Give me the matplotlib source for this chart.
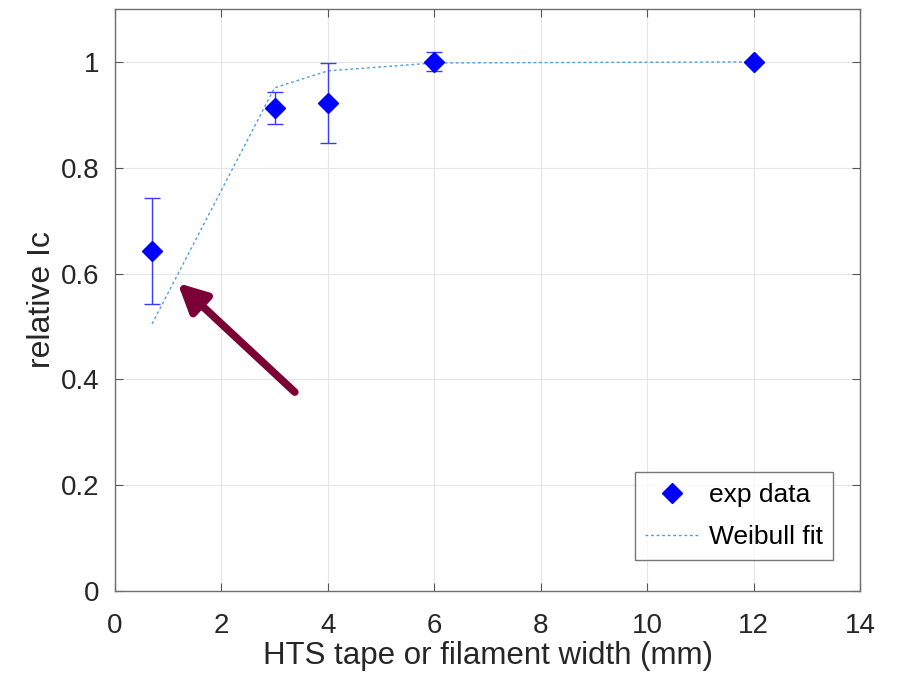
import matplotlib
matplotlib.use("Agg")
import matplotlib.pyplot as plt

plt.rcParams['font.family'] = ['Liberation Sans', 'DejaVu Sans']

width_mm = [0.7, 3, 4, 6, 12]
rel_ic = [0.643, 0.913, 0.922, 1.0, 1.0]
rel_ic_err = [0.100, 0.030, 0.075, 0.018, 0.0]
fit_x = [0.7, 3, 4, 6, 12]
fit_y = [0.505, 0.951, 0.983, 0.998, 1.0]
x_ticks = [0, 2, 4, 6, 8, 10, 12, 14]
y_ticks = [0, 0.2, 0.4, 0.6, 0.8, 1.0]
y_ticklabels = ['0', '0.2', '0.4', '0.6', '0.8', '1']

fig = plt.figure(figsize=(8.97, 6.75), dpi=100)
ax = fig.add_axes([0.128, 0.1244, 0.831, 0.8623])

ax.errorbar(width_mm, rel_ic, yerr=rel_ic_err, fmt='none', ecolor='#3a3af0',
            elinewidth=1.0, capsize=5.5, capthick=1.0, zorder=3)
ax.plot(width_mm, rel_ic, linestyle='none', marker='D', markersize=10,
        color='#0000ff', label='exp data', zorder=4)
ax.plot(fit_x, fit_y, linestyle=(0, (2, 2)), color='#4d9fdc', linewidth=1.0,
        label='Weibull fit', zorder=2)

ax.annotate('', xy=(1.18, 0.582), xytext=(3.38, 0.376),
            arrowprops=dict(arrowstyle='-|>,head_length=1.7,head_width=0.85',
                            color='#7a0035', lw=5.5, shrinkA=0, shrinkB=0))

ax.set_xlim(0, 14)
ax.set_ylim(0, 1.1)
ax.set_xticks(x_ticks)
ax.set_yticks(y_ticks)
ax.set_yticklabels(y_ticklabels)
ax.grid(True, color='#e6e6e6', linewidth=0.8)
ax.set_axisbelow(True)
ax.tick_params(direction='in', length=6, width=0.8, color='#555555',
               labelsize=20, labelcolor='#262626', top=True, right=True)
ax.tick_params(axis='x', pad=16)
ax.tick_params(axis='y', pad=11)
for s in ax.spines.values():
    s.set_color('#6e6e6e')
    s.set_linewidth(1.0)

ax.set_xlabel('HTS tape or filament width (mm)', fontsize=22.5, labelpad=1,
              color='#262626')
ax.set_ylabel('relative Ic', fontsize=23, labelpad=3, color='#262626')

leg = ax.legend(loc='lower right', bbox_to_anchor=(0.9638, 0.0533), fontsize=19,
                frameon=True, fancybox=False, edgecolor='#555555',
                borderpad=0.4, handlelength=2.0, labelspacing=0.7,
                handletextpad=0.4, borderaxespad=0)
leg.get_frame().set_linewidth(1.0)

fig.savefig('out.png', dpi=100)
